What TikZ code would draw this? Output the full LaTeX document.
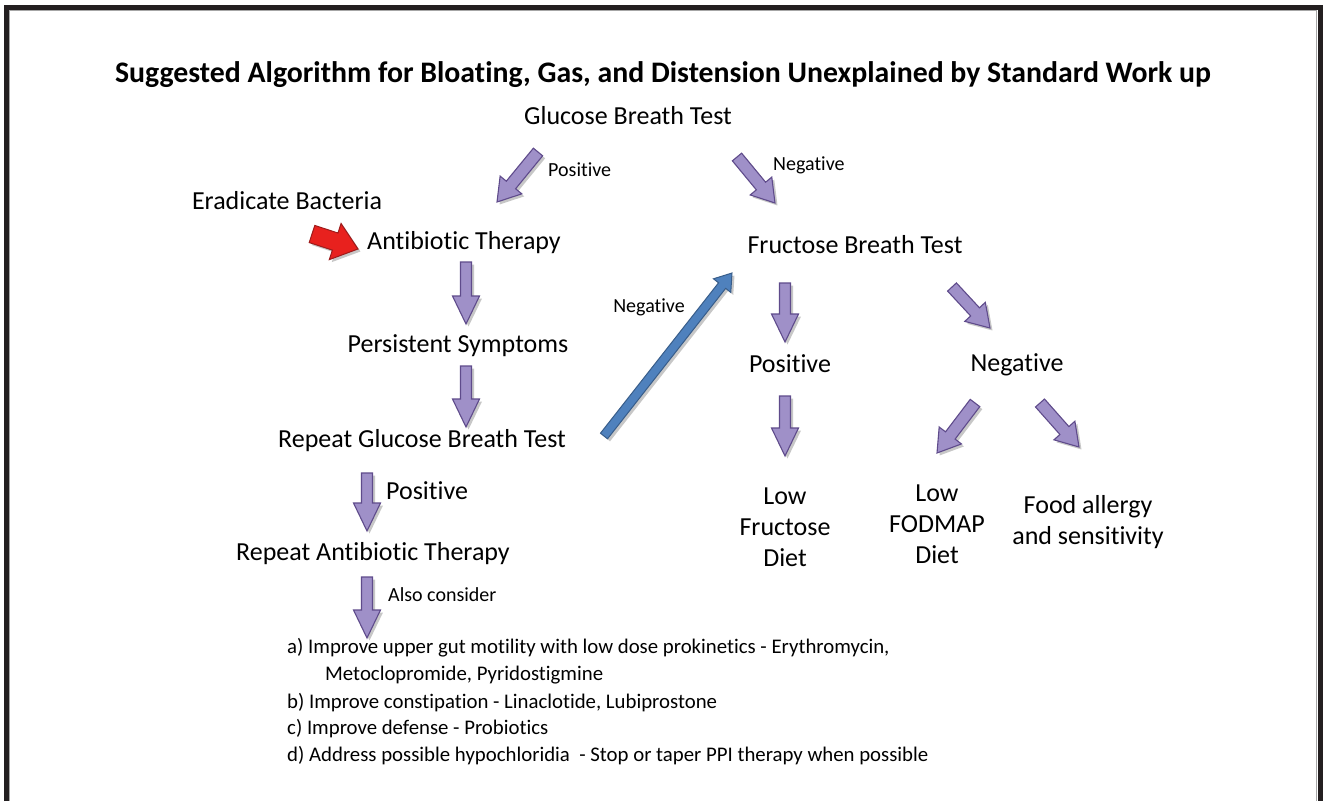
\documentclass[tikz,border=0pt]{standalone}
\usepackage{fontspec}
\setmainfont{Carlito}[Ligatures=NoCommon]
\definecolor{framec}{HTML}{231F20}
\definecolor{lavfill}{HTML}{9F90C8}
\definecolor{lavline}{HTML}{5F4B8B}
\definecolor{bluefill}{HTML}{4F81BD}
\definecolor{blueline}{HTML}{385D8A}
\definecolor{redfill}{HTML}{E8211E}
\definecolor{redline}{HTML}{9E1B1B}
\tikzset{
  big/.style={font=\fontsize{26}{31}\selectfont},
  small/.style={font=\fontsize{20}{24}\selectfont},
  listtxt/.style={font=\fontsize{20.8}{27}\selectfont, anchor=west, inner sep=0pt, text height=1.4em, text depth=0pt},
  txt/.style={inner sep=0pt, text height=1.4em, text depth=0pt},
  multi/.style={inner sep=0pt, align=center},
  lav/.style={fill=lavfill, draw=lavline, line width=1.1pt},
  blu/.style={fill=bluefill, draw=blueline, line width=1pt},
  rd/.style={fill=redfill, draw=redline, line width=1pt},
  shad/.style={fill=black!40, draw=none, opacity=0.55},
  framel/.style={draw=framec, line width=5pt},
}
% style, x1, y1, x2, y2, shaft half width, head half width, head length
\newcommand\blkarrow[8]{%
  \pgfmathsetmacro\bang{atan2(#3-#5,#4-#2)}%
  \pgfmathsetmacro\blen{veclen(#4-#2,#5-#3)}%
  \pgfmathsetmacro\bneck{\blen-#8}%
  \begin{scope}[shift={(#2+2.5,#3+2.5)},rotate=\bang]
    \path[shad] (0,-#6) -- (\bneck,-#6) -- (\bneck,-#7) -- (\blen,0) -- (\bneck,#7) -- (\bneck,#6) -- (0,#6) -- cycle;
  \end{scope}
  \begin{scope}[shift={(#2,#3)},rotate=\bang]
    \draw[#1] (0,-#6) -- (\bneck,-#6) -- (\bneck,-#7) -- (\blen,0) -- (\bneck,#7) -- (\bneck,#6) -- (0,#6) -- cycle;
  \end{scope}}
\begin{document}
\begin{tikzpicture}[x=1pt,y=-1pt]
\useasboundingbox (0,0) rectangle (1326,801);
\fill[white] (0,0) rectangle (1326,801);
% frame
\draw[black!35, line width=1.2pt] (9.8,801) -- (9.8,10.8) -- (1316.2,10.8) -- (1316.2,801);
\draw[framel] (6.5,801) -- (6.5,7.5) -- (1320.5,7.5) -- (1320.5,801);

% title
\node[inner sep=0pt, anchor=base, font=\fontsize{29.8}{34}\bfseries\selectfont] (title) at (663,82) {Suggested Algorithm for Bloating, Gas, and Distension Unexplained by Standard Work up};

% main nodes
\node[txt,big] (glucose) at (628,117) {Glucose Breath Test};
\node[txt,small,anchor=west] (pos1) at (548,169) {Positive};
\node[txt,small,anchor=west] (neg1) at (773,163) {Negative};
\node[txt,big] (erad) at (287,202) {Eradicate Bacteria};
\node[txt,big] (anti) at (464,242) {Antibiotic Therapy};
\node[txt,big] (persist) at (458,345) {Persistent Symptoms};
\node[txt,big] (repeatg) at (422,440) {Repeat Glucose Breath Test};
\node[txt,small] (neg2) at (649,305) {Negative};
\node[txt,big] (fructose) at (855,246) {Fructose Breath Test};
\node[txt,big] (fpos) at (790,365) {Positive};
\node[txt,big] (fneg) at (1017,364) {Negative};
\node[multi,big] (lowf) at (785,527) {Low\\Fructose\\Diet};
\node[multi,big] (lowfod) at (937,524) {Low\\FODMAP\\Diet};
\node[multi,big] (food) at (1088,522) {Food allergy\\and sensitivity};
\node[txt,big,anchor=west] (pos2) at (386,492) {Positive};
\node[txt,big] (repeata) at (373,553) {Repeat Antibiotic Therapy};
\node[txt,small,anchor=west] (also) at (388,594) {Also consider};

% list
\node[listtxt] (la) at (287,646) {a) Improve upper gut motility with low dose prokinetics - Erythromycin,};
\node[listtxt] (la2) at (325,673) {Metoclopromide, Pyridostigmine};
\node[listtxt] (lb) at (287,701) {b) Improve constipation - Linaclotide, Lubiprostone};
\node[listtxt] (lc) at (287,727) {c) Improve defense - Probiotics};
\node[listtxt] (ld) at (287,754) {d) Address possible hypochloridia\ \ - Stop or taper PPI therapy when possible};

% block arrows
\blkarrow{lav}{538}{152}{497}{202}{6}{14}{22}
\blkarrow{lav}{737}{157}{775}{203}{6}{14}{22}
\blkarrow{rd}{312}{234}{358}{249}{9}{19}{24}
\blkarrow{lav}{466}{262}{466}{324}{5.5}{13.5}{28}
\blkarrow{lav}{466}{366}{466}{427}{5.5}{13.5}{28}
\blkarrow{blu}{604}{436}{732}{273}{4.5}{11}{16}
\blkarrow{lav}{785}{283}{785}{342}{5.5}{13.5}{28}
\blkarrow{lav}{785}{396}{785}{456}{5.5}{13.5}{28}
\blkarrow{lav}{952}{287}{990}{328}{6}{14}{22}
\blkarrow{lav}{975}{403}{937}{453}{6}{14}{22}
\blkarrow{lav}{1040}{403}{1079}{447}{6}{14}{22}
\blkarrow{lav}{367}{473}{367}{531}{5.5}{13.5}{28}
\blkarrow{lav}{367}{577}{367}{638}{5.5}{13.5}{28}
\end{tikzpicture}
\end{document}
